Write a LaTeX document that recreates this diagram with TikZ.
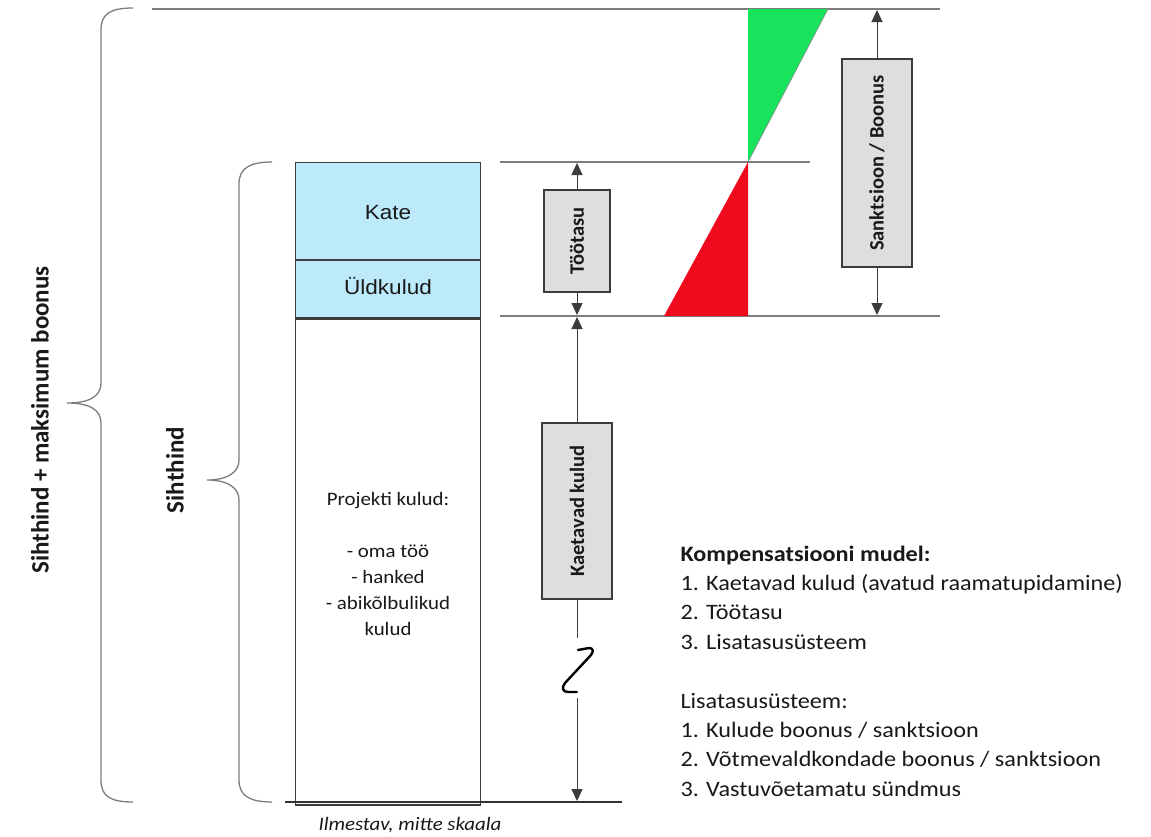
\documentclass[tikz,border=0pt]{standalone}
\usepackage{fontspec}
\setmainfont{Carlito}
\newfontfamily\wide{Carlito}[FakeStretch=1.1]
\newfontfamily\arialf{Liberation Sans}[FakeStretch=1.1]
\usetikzlibrary{arrows.meta}
\definecolor{lblue}{RGB}{189,234,250}
\definecolor{bgreen}{RGB}{25,227,92}
\definecolor{bred}{RGB}{240,10,30}
\definecolor{boxgray}{RGB}{222,222,222}
\definecolor{linec}{RGB}{60,60,60}
\definecolor{guide}{RGB}{125,125,125}
\definecolor{txt}{RGB}{25,25,25}
\begin{document}
\begin{tikzpicture}[x=1pt,y=-1pt,
  guideline/.style={draw=guide, line width=1.2pt},
  bracec/.style={draw=guide, line width=1.3pt},
  arr/.style={draw=linec, line width=1pt, -{Triangle[length=12pt,width=11pt]}},
  plainline/.style={draw=linec, line width=1pt},
  gbox/.style={draw=linec, line width=1.6pt, fill=boxgray, inner sep=0pt},
  boxlabel/.style={rotate=90, text=txt, font=\bfseries\fontsize{20.5}{24}\selectfont},
  colbox/.style={draw=linec, line width=1.2pt, fill=lblue, inner sep=0pt, minimum width=185pt, anchor=north west},
  sidelabel/.style={rotate=90, text=txt, font=\bfseries\fontsize{25}{30}\selectfont},
]
\useasboundingbox (0,0) rectangle (1151,836);
\fill[white] (0,0) rectangle (1151,836);

% guide lines
\coordinate (t0) at (152,9);   \coordinate (t1) at (940,9);
\coordinate (m0) at (500,162); \coordinate (m1) at (810,162);
\coordinate (b0) at (500,316); \coordinate (b1) at (940,316);
\coordinate (z0) at (285,802); \coordinate (z1) at (622,802);
\draw[guideline] (t0) -- (t1);
\draw[guideline] (m0) -- (m1);
\draw[guideline] (b0) -- (b1);

% triangles
\fill[bgreen] (748,9) -- (828,9) -- (748,162) -- cycle;
\draw[linec!60, line width=0.6pt] (828,9) -- (748,162);
\fill[bred] (748,162) -- (748,316) -- (664,316) -- cycle;

% column
\node[colbox, minimum height=97pt] (kate) at (295,162) {};
\node[text=txt, font=\arialf\fontsize{20.5}{24}\selectfont] (katel) at (388,213) {Kate};
\node[colbox, minimum height=57pt] (yld) at (kate.south west) {};
\node[text=txt, font=\arialf\fontsize{20.5}{24}\selectfont] (yldl) at (388,286) {Üldkulud};
\node[draw=linec, line width=1.2pt, fill=white, minimum width=185pt, minimum height=486pt, inner sep=0pt, anchor=north west] (proj) at (yld.south west) {};
\node[text=txt, align=center, font=\wide\fontsize{19}{26}\selectfont] (projl) at (388,564)
  {Projekti kulud:\\[26pt]- oma töö\\- hanked\\- abikõlbulikud\\kulud};
\draw[line width=1.3pt, draw=black!80] (z0) -- (z1);

% braces
\draw[bracec] (133,8) .. controls (110,8) and (101,14) .. (101,30) -- (101,383)
  .. controls (101,396) and (90,403) .. (67,403)
  .. controls (90,403) and (101,410) .. (101,423) -- (101,780)
  .. controls (101,796) and (110,802) .. (133,802);
\draw[bracec] (272,162) .. controls (250,162) and (239,168) .. (239,184) -- (239,460)
  .. controls (239,472) and (228,480) .. (207,480)
  .. controls (228,480) and (239,488) .. (239,500) -- (239,780)
  .. controls (239,796) and (250,802) .. (272,802);
\node[sidelabel] (outerl) at (40,420) {Sihthind + maksimum boonus};
\node[sidelabel] (innerl) at (175,470) {Sihthind};

% Töötasu
\node[gbox, minimum width=66pt, minimum height=102pt] (tt) at (577,241) {};
\node[boxlabel] (ttl) at (tt.center) {Töötasu};
\coordinate (ttTop) at (577,163);
\coordinate (ttBot) at (577,315);
\draw[arr] (tt.north) -- (ttTop);
\draw[arr] (tt.south) -- (ttBot);

% Sanktsioon / Boonus
\node[gbox, minimum width=70pt, minimum height=208pt] (sb) at (877,163) {};
\node[boxlabel] (sbl) at (sb.center) {Sanktsioon / Boonus};
\coordinate (sbTop) at (877,10);
\coordinate (sbBot) at (877,315);
\draw[arr] (sb.north) -- (sbTop);
\draw[arr] (sb.south) -- (sbBot);

% Kaetavad kulud
\node[gbox, minimum width=70pt, minimum height=176pt] (kk) at (577,511) {};
\node[boxlabel] (kkl) at (kk.center) {Kaetavad kulud};
\coordinate (kkTop) at (577,317);
\coordinate (brk1) at (577,638);
\coordinate (brk2) at (577,698);
\coordinate (kkBot) at (577,801);
\draw[arr] (kk.north) -- (kkTop);
\draw[plainline] (kk.south) -- (brk1);
\draw[draw=black, line width=2.4pt, line cap=round, line join=round]
  (578,650) -- (589,648) .. controls (593,648) and (594,651) .. (591,655) -- (565,683)
  .. controls (561,688) and (563,692) .. (568,692) -- (577,692);
\draw[arr] (brk2) -- (kkBot);

% caption
\node[text=txt, font=\wide\itshape\fontsize{19}{22}\selectfont] (capt) at (410,825) {Ilmestav, mitte skaala};

% legend
\node[text=txt, anchor=west, align=left, font=\wide\fontsize{22}{29.4}\selectfont] (legend) at (677,671)
  {\textbf{Kompensatsiooni mudel:}\\
   1. Kaetavad kulud (avatud raamatupidamine)\\
   2. Töötasu\\
   3. Lisatasusüsteem\\[29.4pt]
   Lisatasusüsteem:\\
   1. Kulude boonus / sanktsioon\\
   2. Võtmevaldkondade boonus / sanktsioon\\
   3. Vastuvõetamatu sündmus};
\end{tikzpicture}
\end{document}
